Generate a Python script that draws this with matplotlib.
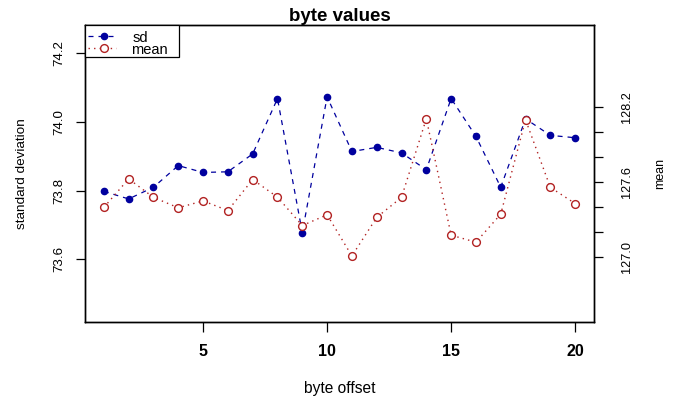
import matplotlib
matplotlib.use("Agg")
import matplotlib.pyplot as plt
from matplotlib.lines import Line2D
from matplotlib.patches import Rectangle

plt.rcParams['font.family'] = ['Liberation Sans', 'DejaVu Sans']

offsets = list(range(1, 21))
sd_vals = [73.798, 73.776, 73.810, 73.873, 73.853, 73.855, 73.907, 74.068, 73.678, 74.073,
           73.914, 73.926, 73.910, 73.861, 74.068, 73.958, 73.810, 74.009, 73.961, 73.954]
mean_vals = [127.398, 127.626, 127.478, 127.395, 127.450, 127.373, 127.621, 127.480, 127.253, 127.339,
             127.010, 127.318, 127.478, 128.107, 127.176, 127.120, 127.344, 128.099, 127.558, 127.429]
sd_ticks = [73.6, 73.8, 74.0, 74.2]
mean_ticks = [127.0, 127.2, 127.4, 127.6, 127.8, 128.0, 128.2]
mean_tick_labels = ['127.0', '', '', '127.6', '', '', '128.2']
x_ticks = [5, 10, 15, 20]
legend_labels = ['sd', 'mean']

blue = '#00009E'
red = '#B22222'
W, H = 674, 396

fig = plt.figure(figsize=(6.74, 3.96), dpi=100)
ax = fig.add_axes([85/W, 1-322/H, (594-85)/W, (322-25)/H])
ax2 = ax.twinx()

sd_style = dict(color=blue, linestyle=(0, (4, 4)), linewidth=0.9, marker='o', markersize=4.5,
                markerfacecolor=blue, markeredgecolor=blue)
mean_style = dict(color=red, linestyle=(0, (1, 3)), linewidth=1.0, marker='o', markersize=5.6,
                  markerfacecolor='white', markeredgecolor=red, markeredgewidth=1.0)

ax.plot(offsets, sd_vals, zorder=3, **sd_style)
ax2.plot(offsets, mean_vals, zorder=3, **mean_style)
ax2.patch.set_visible(False)

ax.set_xlim(0.24, 20.76)
ax.set_ylim(73.418, 74.282)
ax2.set_ylim(126.482, 128.856)

ax.set_xticks(x_ticks)
ax.set_xticklabels([str(t) for t in x_ticks], fontweight='bold')
ax.set_yticks(sd_ticks)
ax.set_yticklabels([f"{t:.1f}" for t in sd_ticks], rotation=90, va='center')
ax2.set_yticks(mean_ticks)
ax2.set_yticklabels(mean_tick_labels, rotation=90, va='center')

for a in (ax, ax2):
    for s in a.spines.values():
        s.set_linewidth(1.0)
        s.set_color('black')

ax.tick_params(axis='x', direction='out', length=7, width=0.9, pad=8.5, labelsize=11.5)
ax.tick_params(axis='y', direction='out', length=6.5, width=0.9, pad=7.5, labelsize=9.6)
ax2.tick_params(axis='y', direction='out', length=6.5, width=0.9, pad=13, labelsize=9.2)

ax.set_xlabel('byte offset', fontsize=11.2, va='center')
ax.xaxis.set_label_coords(0.5, (322-388)/297)
ax.set_ylabel('standard deviation', fontsize=9.7, va='center')
ax.yaxis.set_label_coords((22-85)/509, 0.5)
ax2.set_ylabel('mean', fontsize=9, va='center', rotation=90)
ax2.yaxis.set_label_coords((660-85)/509, 0.5)
ax.set_title('byte values', fontsize=13.5, fontweight='bold', va='center',
             pad=0, y=1+(25-16.5)/297)

# legend (R style, top-left corner of the plot region)
fig.add_artist(Rectangle((85/W, 1-57/H), (179-85)/W, (57-25)/H, transform=fig.transFigure,
                         facecolor='white', edgecolor='black', linewidth=0.9, zorder=5))
for style, yh, yt, xt, lab in [(sd_style, 35.7, 41.5, 132.3, legend_labels[0]),
                               (mean_style, 48.3, 54.5, 131, legend_labels[1])]:
    fig.add_artist(Line2D([88/W, 116/W], [1-yh/H, 1-yh/H], transform=fig.transFigure, zorder=6,
                          color=style['color'], linestyle=style['linestyle'],
                          linewidth=style['linewidth']))
    fig.add_artist(Line2D([104/W], [1-yh/H], transform=fig.transFigure, zorder=7,
                          linestyle='none', marker='o', markersize=style['markersize'],
                          markerfacecolor=style['markerfacecolor'],
                          markeredgecolor=style['markeredgecolor']))
    fig.text(xt/W, 1-yt/H, lab, fontsize=10.5, va='baseline', ha='left', zorder=8)

fig.savefig('out.png', dpi=100)
